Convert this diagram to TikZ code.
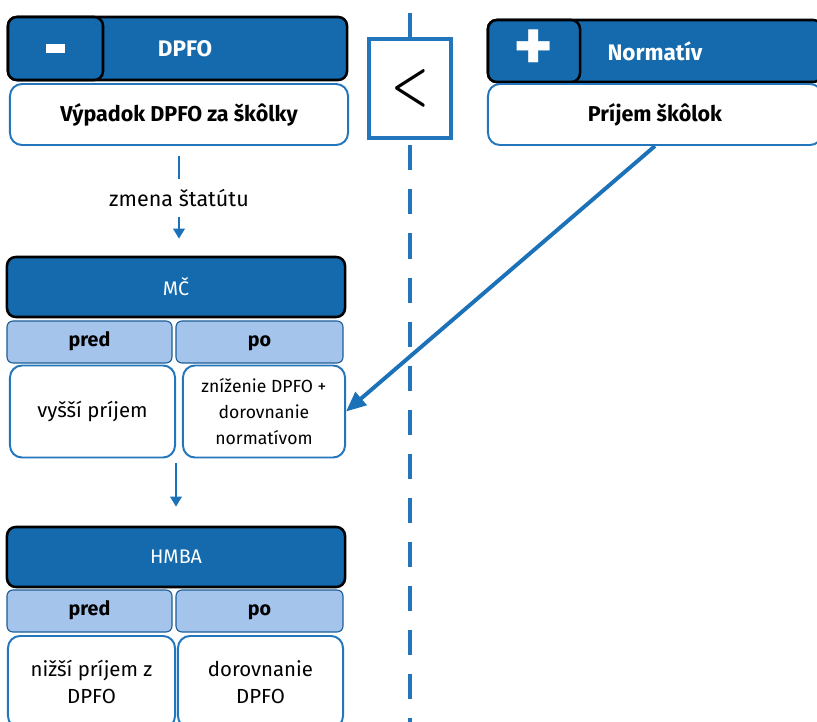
\documentclass[tikz,border=0pt]{standalone}
\usepackage{fontspec}
\setmainfont{Fira Sans}
\usetikzlibrary{arrows.meta}
\definecolor{headblue}{RGB}{20,106,172}
\definecolor{paleblue}{RGB}{164,196,236}
\definecolor{edgeblue}{RGB}{36,118,188}
\definecolor{flowblue}{RGB}{28,114,184}

\begin{document}
\begin{tikzpicture}[
    x=0.025cm, y=-0.025cm,
    every node/.style={inner sep=0pt, align=center},
    head/.style={draw=black, line width=1.8pt, fill=headblue, rounded corners=0.22cm,
      text=white, font=\fontsize{14}{16}\selectfont},
    headbold/.style={text=white, font=\bfseries\fontsize{16}{18}\selectfont},
    sub/.style={draw=edgeblue!80!black, line width=0.8pt, fill=paleblue, rounded corners=0.15cm,
      minimum height=1.05cm, text height=0.8em, text depth=0.2em,
      font=\bfseries\fontsize{14}{16}\selectfont},
    cell/.style={draw=edgeblue, line width=1.4pt, fill=white, rounded corners=0.3cm,
      minimum height=2.3cm, font=\fontsize{14.5}{19}\selectfont},
    topbox/.style={draw=edgeblue, line width=1.4pt, fill=white, rounded corners=0.3cm,
      minimum height=1.525cm, font=\bfseries\fontsize{15.3}{17}\selectfont},
    flow/.style={draw=flowblue, line width=2pt, -{Triangle[length=0.25cm,width=0.28cm]}},
    axis/.style={draw=edgeblue, line width=3.5pt}
    ]
    \useasboundingbox (0,0) rectangle (817,722);

    \node[head, minimum width=8.475cm, minimum height=1.575cm] (dpfo) at (177.5,48.5) {};
    \node[head, minimum width=2.375cm, minimum height=1.575cm] (minus) at (55.5,48.5)
      {\rule{0.45cm}{0.225cm}};
    \node[headbold] (dpfolbl) at (185,48.5) {DPFO};
    \node[topbox, minimum width=8.45cm] (vypadok) at (179,114.5) {Výpadok DPFO za škôlky};

    \node[head, minimum width=8.35cm, minimum height=1.55cm, headbold] (norm) at (655,51) {Normatív};
    \node[head, minimum width=2.3cm, minimum height=1.55cm] (plus) at (534,51)
      {\bfseries\fontsize{54}{54}\selectfont +};
    \node[topbox, minimum width=8.35cm] (prijem) at (655,114.5) {Príjem škôlok};

    \coordinate (axtop) at (410,13);
    \coordinate (axbot) at (410,722);
    \node[axis, fill=white, minimum width=2.05cm, minimum height=2.475cm] (lt) at (410,88.5)
      {\scalebox{3}[4]{\mbox{\mathversion{bold}$<$}}};
    \draw[axis] (axtop) -- (lt);
    \draw[axis, dash pattern=on 0.625cm off 0.475cm, dash phase=0.975cm] (lt) -- (axbot);

    \node[head, minimum width=8.45cm, minimum height=1.5cm] (mc) at (176,287) {MČ};
    \node[sub, minimum width=4.125cm] (mcpred) at (89.5,342) {pred};
    \node[sub, minimum width=4.175cm] (mcpo) at (259.5,342) {po};
    \node[cell, minimum width=4.125cm] (mcvys) at (92.5,411.5) {vyšší príjem};
    \node[cell, minimum width=4.05cm, font=\fontsize{12.5}{18.5}\selectfont] (mczniz) at (264,411.5)
      {zníženie DPFO +\\dorovnanie\\normatívom};

    \node[head, minimum width=8.45cm, minimum height=1.5cm] (hmba) at (176,557) {HMBA};
    \node[sub, minimum width=4.125cm] (hmbapred) at (89.5,611) {pred};
    \node[sub, minimum width=4.175cm] (hmbapo) at (259.5,611) {po};
    \node[cell, minimum width=4.175cm] (hmbanizsi) at (91.5,682) {nižší príjem z\\DPFO};
    \node[cell, minimum width=4.125cm] (hmbadorov) at (260.5,682) {dorovnanie\\DPFO};

    \draw[flow, shorten <=0.25cm, shorten >=0.425cm] (vypadok.south) --
      node[pos=0.47, fill=white, minimum height=0.95cm, font=\fontsize{15.3}{17}\selectfont] (zmena)
      {zmena štatútu} (vypadok.south |- mc.north);
    \draw[flow, shorten <=0.125cm, shorten >=0.475cm] (mcvys.south east) -- (mcvys.south east |- hmba.north);
    \draw[flow, line width=2.8pt, -{Triangle[length=0.5cm,width=0.42cm]}] (prijem.south) -- (mczniz.east);

    \end{tikzpicture}
\end{document}
